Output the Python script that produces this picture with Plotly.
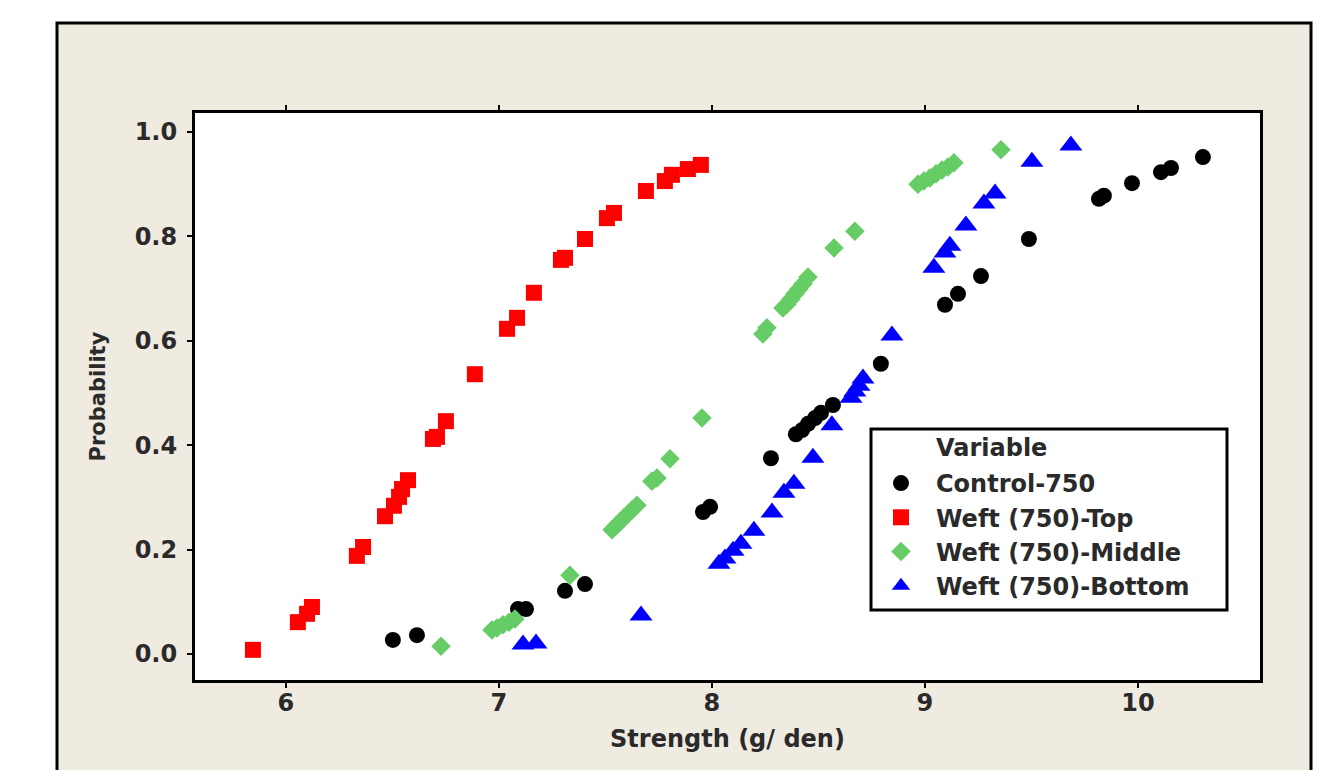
import plotly.graph_objects as go

# ---- data ----
series_names = ["Control-750", "Weft (750)-Top", "Weft (750)-Middle", "Weft (750)-Bottom"]

control_x = [6.502, 6.615, 7.089, 7.127, 7.310, 7.404, 7.958, 7.991, 8.277, 8.394, 8.423, 8.451,
             8.484, 8.512, 8.568, 8.793, 9.094, 9.155, 9.263, 9.488, 9.817, 9.840, 9.972, 10.108,
             10.155, 10.305]
control_y = [0.027, 0.036, 0.086, 0.086, 0.121, 0.134, 0.272, 0.282, 0.375, 0.421, 0.429, 0.441,
             0.452, 0.462, 0.477, 0.556, 0.669, 0.690, 0.724, 0.795, 0.872, 0.878, 0.902, 0.923,
             0.931, 0.952]

top_x = [5.845, 6.056, 6.099, 6.122, 6.333, 6.362, 6.465, 6.507, 6.531, 6.545, 6.573, 6.690,
         6.709, 6.751, 6.887, 7.038, 7.085, 7.164, 7.291, 7.310, 7.404, 7.507, 7.540, 7.690,
         7.779, 7.812, 7.887, 7.948]
top_y = [0.008, 0.061, 0.077, 0.090, 0.188, 0.205, 0.264, 0.284, 0.301, 0.316, 0.333, 0.412,
         0.416, 0.446, 0.536, 0.623, 0.644, 0.692, 0.755, 0.759, 0.795, 0.835, 0.845, 0.887,
         0.906, 0.918, 0.929, 0.937]

middle_x = [6.728, 6.967, 6.991, 7.019, 7.047, 7.075, 7.333, 7.531, 7.549, 7.568, 7.587, 7.606,
            7.624, 7.648, 7.718, 7.742, 7.803, 7.953, 8.239, 8.258, 8.333, 8.352, 8.371, 8.390,
            8.408, 8.427, 8.451, 8.573, 8.671, 8.967, 8.995, 9.023, 9.052, 9.080, 9.108, 9.136,
            9.357]
middle_y = [0.015, 0.046, 0.050, 0.056, 0.061, 0.067, 0.151, 0.238, 0.245, 0.253, 0.261, 0.268,
            0.276, 0.285, 0.331, 0.337, 0.374, 0.452, 0.613, 0.625, 0.663, 0.670, 0.680, 0.690,
            0.699, 0.709, 0.722, 0.778, 0.810, 0.900, 0.906, 0.912, 0.920, 0.927, 0.933, 0.941,
            0.966]

bottom_x = [7.113, 7.174, 7.667, 8.033, 8.061, 8.099, 8.136, 8.197, 8.282, 8.338, 8.385, 8.474,
            8.563, 8.653, 8.671, 8.690, 8.709, 8.845, 9.042, 9.094, 9.117, 9.192, 9.277, 9.329,
            9.502, 9.685]
bottom_y = [0.018, 0.020, 0.074, 0.173, 0.183, 0.198, 0.211, 0.236, 0.271, 0.309, 0.326, 0.376,
            0.438, 0.491, 0.503, 0.514, 0.528, 0.610, 0.740, 0.769, 0.782, 0.821, 0.863, 0.882,
            0.943, 0.974]

x_ticks = [6, 7, 8, 9, 10]
y_ticks = [0.0, 0.2, 0.4, 0.6, 0.8, 1.0]
y_tick_text = ["0.0", "0.2", "0.4", "0.6", "0.8", "1.0"]

# ---- styles ----
FONT = "DejaVu Sans"
TXT = "#2a2a2a"
styles = [
    dict(color="#000000", symbol="circle", size=16),
    dict(color="#FF0000", symbol="square", size=16),
    dict(color="#66CC66", symbol="diamond", size=15),
    dict(color="#0000FF", symbol="triangle-up", size=20),
]
xs = [control_x, top_x, middle_x, bottom_x]
ys = [control_y, top_y, middle_y, bottom_y]

fig = go.Figure()
for i, name in enumerate(series_names):
    fig.add_trace(go.Scatter(
        x=xs[i], y=ys[i], mode="markers", name=name,
        marker=dict(color=styles[i]["color"], symbol=styles[i]["symbol"],
                    size=styles[i]["size"], line=dict(width=0)),
    ))

# page offsets: the browser body has an 8px margin
OFF = 8
L, R, T, B = 195, 1260, 113, 680          # plot area in window pixels
W, H = 1332 - OFF, 770 - OFF
pw, ph = R - L, B - T

def px(x):
    return (x - L) / pw

def py(y):
    return (B - y) / ph

shapes = [
    # beige outer panel
    dict(type="rect", xref="paper", yref="paper", layer="below",
         x0=px(57), x1=px(1311), y0=py(790), y1=py(23),
         fillcolor="#EFEBE0", line=dict(color="black", width=3)),
    # white data region
    dict(type="rect", xref="paper", yref="paper", layer="below",
         x0=0, x1=1, y0=0, y1=1, fillcolor="white", line=dict(width=0)),
    # legend box
    dict(type="rect", xref="paper", yref="paper", layer="above",
         x0=px(871), x1=px(1227), y0=py(610), y1=py(429),
         fillcolor="white", line=dict(color="black", width=3)),
]

fig.update_layout(
    width=W, height=H,
    margin=dict(l=L - OFF, r=1332 - R, t=T - OFF, b=770 - B, pad=0),
    paper_bgcolor="white", plot_bgcolor="white",
    font=dict(family=FONT, size=24, color=TXT),
    showlegend=True,
    legend=dict(
        x=px(866), y=py(461), xanchor="left", yanchor="top",
        bgcolor="rgba(0,0,0,0)", borderwidth=0,
        font=dict(family=FONT, size=24, color=TXT, weight="bold"),
        itemwidth=60, traceorder="normal",
    ),
    shapes=shapes,
    annotations=[
        dict(text="Variable", xref="paper", yref="paper", x=px(934), y=py(448),
             xanchor="left", yanchor="middle", showarrow=False,
             font=dict(family=FONT, size=24, color=TXT, weight="bold")),
    ],
)

fig.update_xaxes(
    range=[5.573, 10.573], tickvals=x_ticks, ticktext=[str(v) for v in x_ticks],
    showgrid=False, zeroline=False,
    showline=True, linecolor="black", linewidth=3, mirror="ticks",
    ticks="outside", ticklen=5, tickwidth=2, tickcolor="black",
    tickfont=dict(family=FONT, size=24, color=TXT, weight="bold"),
    ticklabelstandoff=-6,
    title=dict(text="Strength (g/ den)", standoff=15,
               font=dict(family=FONT, size=24, color=TXT, weight="bold")),
)
fig.update_yaxes(
    range=[-0.0498, 1.0364], tickvals=y_ticks, ticktext=y_tick_text,
    showgrid=False, zeroline=False,
    showline=True, linecolor="black", linewidth=3, mirror=True,
    ticks="outside", ticklen=5, tickwidth=2, tickcolor="black",
    tickfont=dict(family=FONT, size=24, color=TXT, weight="bold"),
    ticklabelstandoff=5,
    title=dict(text="Probability", standoff=24,
               font=dict(family=FONT, size=21, color=TXT, weight="bold")),
)

fig.write_html("out.html")
